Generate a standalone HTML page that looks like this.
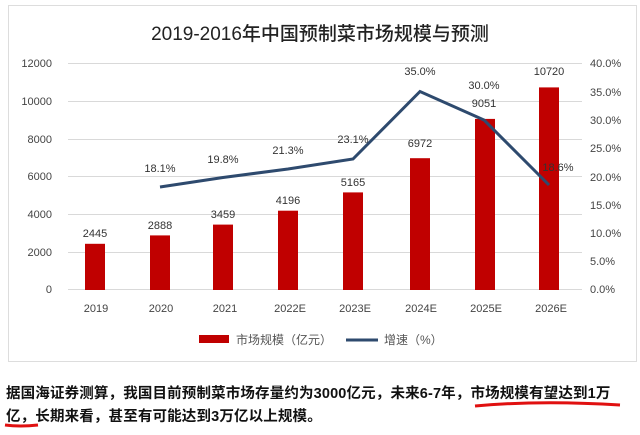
<!DOCTYPE html>
<html><head><meta charset="utf-8"><style>
body{margin:0;width:640px;height:435px;background:#fff;overflow:hidden;font-family:"Liberation Sans","Noto Sans CJK SC",sans-serif}
.t{position:absolute;left:6px;font-size:14.5px;font-weight:bold;color:#111;white-space:nowrap;letter-spacing:0.15px}
</style></head><body>
<svg width="640" height="435" style="position:absolute;left:0;top:0" font-family="Liberation Sans, Noto Sans CJK SC, sans-serif">
<rect x="8.5" y="5.5" width="628" height="356" fill="#fff" stroke="#ddd"/>
<text x="320" y="40" font-size="19" text-anchor="middle" fill="#222" font-weight="500">2019-2016年中国预制菜市场规模与预测</text>
<g stroke="#d9d9d9" stroke-width="1">
<line x1="68" x2="582" y1="63.5" y2="63.5"/><line x1="68" x2="582" y1="101.5" y2="101.5"/>
<line x1="68" x2="582" y1="139.5" y2="139.5"/><line x1="68" x2="582" y1="176.5" y2="176.5"/>
<line x1="68" x2="582" y1="214.5" y2="214.5"/><line x1="68" x2="582" y1="252.5" y2="252.5"/>
<line x1="68" x2="582" y1="289.5" y2="289.5"/>
</g>
<g font-size="11" fill="#444" text-anchor="end">
<text x="52" y="67">12000</text><text x="52" y="105">10000</text><text x="52" y="143">8000</text>
<text x="52" y="180">6000</text><text x="52" y="218">4000</text><text x="52" y="256">2000</text><text x="52" y="293">0</text>
</g>
<g font-size="11" fill="#444">
<text x="590" y="67">40.0%</text><text x="590" y="96">35.0%</text><text x="590" y="124">30.0%</text>
<text x="590" y="152">25.0%</text><text x="590" y="181">20.0%</text><text x="590" y="209">15.0%</text>
<text x="590" y="237">10.0%</text><text x="590" y="265">5.0%</text><text x="590" y="293">0.0%</text>
</g>
<g fill="#c00000">
<rect x="85" y="243.8" width="20" height="46.2"/>
<rect x="150" y="235.4" width="20" height="54.6"/>
<rect x="213" y="224.6" width="20" height="65.4"/>
<rect x="278" y="210.7" width="20" height="79.3"/>
<rect x="343" y="192.4" width="20" height="97.6"/>
<rect x="410" y="158.2" width="20" height="131.8"/>
<rect x="475" y="118.9" width="20" height="171.1"/>
<rect x="539" y="87.4" width="20" height="202.6"/>
</g>
<g font-size="11" fill="#333" text-anchor="middle">
<text x="95" y="237">2445</text><text x="160" y="229">2888</text><text x="223" y="218">3459</text>
<text x="288" y="204">4196</text><text x="353" y="186">5165</text><text x="420" y="147">6972</text>
<text x="484" y="107">9051</text><text x="549" y="75">10720</text>
<text x="160" y="172">18.1%</text><text x="223" y="163">19.8%</text><text x="288" y="154">21.3%</text>
<text x="353" y="143">23.1%</text><text x="420" y="75">35.0%</text><text x="484" y="89">30.0%</text>
<text x="558" y="171">18.6%</text>
</g>
<polyline points="160,187 223,177.5 288,169 353,159 420,91.5 484,120 549,185" fill="none" stroke="#2e4a6e" stroke-width="3"/>
<g font-size="11" fill="#444" text-anchor="middle">
<text x="96" y="312">2019</text><text x="161" y="312">2020</text><text x="225" y="312">2021</text>
<text x="290" y="312">2022E</text><text x="355" y="312">2023E</text><text x="421" y="312">2024E</text>
<text x="486" y="312">2025E</text><text x="551" y="312">2026E</text>
</g>
<rect x="199" y="335" width="30" height="8" fill="#c00000"/>
<text x="236" y="344" font-size="12" fill="#555">市场规模（亿元）</text>
<line x1="346" x2="378" y1="340" y2="340" stroke="#2e4a6e" stroke-width="3"/>
<text x="384" y="344" font-size="12" fill="#555">增速（%）</text>
<path d="M475 406 Q540 400 620 405" stroke="#e01010" stroke-width="3" fill="none"/>
<path d="M5 425 Q20 427 38 425" stroke="#e01010" stroke-width="3" fill="none"/>
</svg>
<div class="t" style="top:382px">据国海证券测算，我国目前预制菜市场存量约为3000亿元，未来6-7年，市场规模有望达到1万</div>
<div class="t" style="top:405px">亿，长期来看，甚至有可能达到3万亿以上规模。</div>
</body></html>
